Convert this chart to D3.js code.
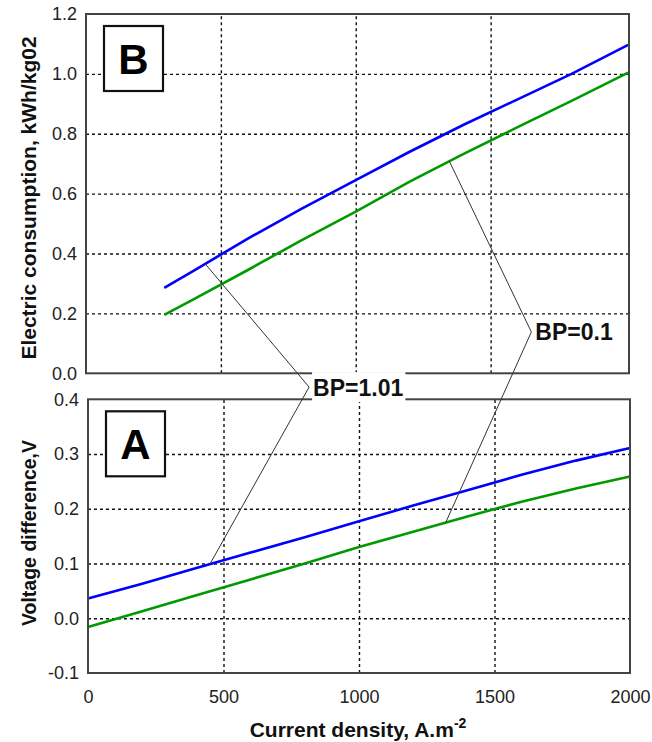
<!DOCTYPE html>
<html>
<head>
<meta charset="utf-8">
<script src="https://cdn.jsdelivr.net/npm/d3@7"></script>
<style>
  body { margin: 0; background: #fff; }
  svg text { font-family: "Liberation Sans", Arial, sans-serif; }
</style>
</head>
<body>
<svg id="chart" width="652" height="742"></svg>
<script>
// panel B: electric consumption
const consX = [290, 400, 600, 800, 1000, 1200, 1400, 1600, 1800, 2010];
const consBlue = [0.285, 0.343, 0.45, 0.55, 0.645, 0.74, 0.83, 0.915, 1.0, 1.097];
const consGreen = [0.195, 0.248, 0.345, 0.445, 0.54, 0.64, 0.733, 0.822, 0.91, 1.004];

// panel A: voltage difference
const voltX = [0, 200, 400, 600, 800, 1000, 1200, 1400, 1600, 1800, 2000];
const voltBlue = [0.036, 0.063, 0.092, 0.12, 0.148, 0.177, 0.206, 0.234, 0.262, 0.288, 0.311];
const voltGreen = [-0.016, 0.013, 0.042, 0.071, 0.1, 0.13, 0.158, 0.186, 0.213, 0.237, 0.259];

const xTicks = [0, 500, 1000, 1500, 2000];
const consTicks = [0, 0.2, 0.4, 0.6, 0.8, 1.0, 1.2];
const voltTicks = [-0.1, 0, 0.1, 0.2, 0.3, 0.4];

// leader labels: anchor x on the curves, vertex in panel B units
const bpLabels = ['BP=1.01', 'BP=0.1'];
const bpSeries = ['blue', 'green'];
const bpTopAnchor = [442, 1347];
const bpBotAnchor = [450, 1320];
const bpVertexX = [827, 1651];
const bpVertexY = [-0.046, 0.138];

const blue = '#0000ff';
const green = '#009a00';
const font = '"Liberation Sans", Arial, sans-serif';

const svg = d3.select('#chart');

const xTop = d3.scaleLinear().domain([0, 2013]).range([86, 629]);
const yTop = d3.scaleLinear().domain([0, 1.2]).range([373.3, 14]);
const xBot = d3.scaleLinear().domain([0, 2000]).range([88, 630]);
const yBot = d3.scaleLinear().domain([-0.1, 0.4]).range([673, 399.3]);

const fmt1 = d => d3.format('.1f')(d).replace('\u2212', '-');

function interp(xs, ys, v) {
  return d3.scaleLinear().domain(xs).range(ys)(v);
}

function drawPanel(x, y, yTicks, series, xs, letter) {
  const g = svg.append('g');
  const [x0, x1] = x.range();
  const [y0, y1] = y.range();

  // dashed grid
  g.append('g')
    .attr('transform', `translate(0,${y0})`)
    .call(d3.axisBottom(x).tickValues([500, 1000, 1500]).tickSize(-(y0 - y1)).tickFormat(''))
    .call(s => s.select('.domain').remove());
  g.append('g')
    .attr('transform', `translate(${x0},0)`)
    .call(d3.axisLeft(y).tickValues(yTicks.slice(1, -1)).tickSize(-(x1 - x0)).tickFormat(''))
    .call(s => s.select('.domain').remove());
  g.selectAll('.tick line')
    .attr('stroke', '#111')
    .attr('stroke-width', 1.4)
    .attr('stroke-dasharray', '3,3');

  // tick labels
  g.append('g')
    .attr('transform', `translate(${x0 - 6},0)`)
    .call(d3.axisLeft(y).tickValues(yTicks).tickSize(0).tickFormat(fmt1))
    .call(s => s.select('.domain').remove())
    .selectAll('text')
    .attr('font-size', 18)
    .attr('fill', '#222')
    .attr('font-family', font);

  series.forEach(s => {
    g.append('path')
      .datum(s.values)
      .attr('fill', 'none')
      .attr('stroke', s.color)
      .attr('stroke-width', 2.6)
      .attr('d', d3.line().x((d, i) => x(xs[i])).y(d => y(d)));
  });

  g.append('rect')
    .attr('x', x0).attr('y', y1)
    .attr('width', x1 - x0).attr('height', y0 - y1)
    .attr('fill', 'none')
    .attr('stroke', '#444')
    .attr('stroke-width', 2);

  // panel letter box
  const bx = x0 + 18;
  const by = y1 + 12;
  g.append('rect')
    .attr('x', bx).attr('y', by)
    .attr('width', 59).attr('height', 65)
    .attr('fill', '#fff')
    .attr('stroke', '#111')
    .attr('stroke-width', 2.2);
  g.append('text')
    .attr('x', bx + 29.5).attr('y', by + 48)
    .attr('text-anchor', 'middle')
    .attr('font-size', 42)
    .attr('font-weight', 'bold')
    .text(letter);

  return g;
}

drawPanel(xTop, yTop, consTicks,
  [{ values: consBlue, color: blue }, { values: consGreen, color: green }], consX, 'B');
drawPanel(xBot, yBot, voltTicks,
  [{ values: voltBlue, color: blue }, { values: voltGreen, color: green }], voltX, 'A');

// x axis labels
svg.append('g')
  .attr('transform', `translate(0,${yBot.range()[0] + 14})`)
  .call(d3.axisBottom(xBot).tickValues(xTicks).tickSize(0).tickFormat(d3.format('d')))
  .call(s => s.select('.domain').remove())
  .selectAll('text')
  .attr('font-size', 18)
  .attr('fill', '#222')
  .attr('font-family', font);

// axis titles
const xt = svg.append('text')
  .attr('x', 358).attr('y', 737)
  .attr('text-anchor', 'middle')
  .attr('font-size', 21)
  .attr('font-weight', 'bold')
  .attr('fill', '#111');
xt.append('tspan').text('Current density, A.m');
xt.append('tspan').attr('font-size', 14).attr('dy', -9).text('-2');

svg.append('text')
  .attr('transform', 'translate(36,198) rotate(-90)')
  .attr('text-anchor', 'middle')
  .attr('font-size', 21)
  .attr('font-weight', 'bold')
  .attr('fill', '#111')
  .text('Electric consumption, kWh/kg02');

svg.append('text')
  .attr('transform', 'translate(36,533) rotate(-90)')
  .attr('text-anchor', 'middle')
  .attr('font-size', 19.5)
  .attr('font-weight', 'bold')
  .attr('fill', '#111')
  .text('Voltage difference,V');

// BP leader lines and labels
bpLabels.forEach((label, i) => {
  const topY = interp(consX, bpSeries[i] === 'blue' ? consBlue : consGreen, bpTopAnchor[i]);
  const botY = interp(voltX, bpSeries[i] === 'blue' ? voltBlue : voltGreen, bpBotAnchor[i]);
  const vx = xTop(bpVertexX[i]);
  const vy = yTop(bpVertexY[i]);

  const bg = svg.append('rect').attr('fill', '#fff');
  const t = svg.append('text')
    .attr('x', vx + 4).attr('y', vy + 8.5)
    .attr('font-size', 23)
    .attr('font-weight', 'bold')
    .attr('fill', '#111')
    .text(label);
  const bb = t.node().getBBox();
  bg.attr('x', bb.x - 1).attr('y', vy - 15)
    .attr('width', bb.width + 3).attr('height', 30);

  svg.append('polyline')
    .attr('points', [
      [xTop(bpTopAnchor[i]), yTop(topY)],
      [vx, vy],
      [xBot(bpBotAnchor[i]), yBot(botY)]
    ].map(p => p.join(',')).join(' '))
    .attr('fill', 'none')
    .attr('stroke', '#333')
    .attr('stroke-width', 1);
});
</script>
</body>
</html>
